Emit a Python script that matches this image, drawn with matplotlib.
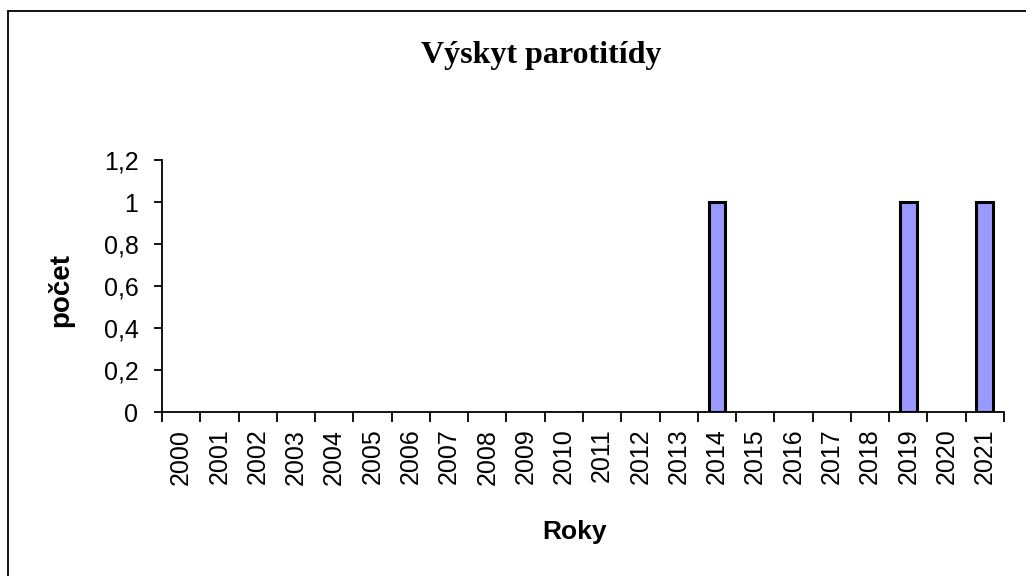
import matplotlib
matplotlib.use("Agg")
import matplotlib.pyplot as plt
from matplotlib.patches import Rectangle
from matplotlib.ticker import FuncFormatter

years = [str(y) for y in range(2000, 2022)]
counts = [0, 0, 0, 0, 0, 0, 0, 0, 0, 0, 0, 0, 0, 0, 1, 0, 0, 0, 0, 1, 0, 1]
yticks = [0, 0.2, 0.4, 0.6, 0.8, 1.0, 1.2]

W, H = 1026, 576
fig = plt.figure(figsize=(W / 100, H / 100), dpi=100)
fig.patch.set_facecolor("white")

# outer chart frame
fig.add_artist(Rectangle((7.5 / W, -0.01), 1.02, 1 - 10.5 / H + 0.01, transform=fig.transFigure,
                         fill=False, edgecolor="black", linewidth=1.3))

ax = fig.add_axes([162 / W, 1 - 412 / H, (1004 - 162) / W, (412 - 160) / H])
x = list(range(len(years)))
lws = [2.2 if c > 0 else 0 for c in counts]
ax.bar(x, counts, width=0.44, color="#9999FF", edgecolor="black", linewidth=lws, zorder=3)

ax.set_xlim(-0.5, len(years) - 0.5)
ax.set_ylim(0, 1.2)
ax.set_yticks(yticks)
ax.yaxis.set_major_formatter(FuncFormatter(lambda v, p: ("%g" % round(v, 1)).replace(".", ",")))
ax.set_xticks([i - 0.5 for i in x] + [len(years) - 0.5], minor=False)
ax.set_xticklabels([""] * (len(years) + 1))
ax.set_xticks(x, minor=True)
ax.set_xticklabels(years, minor=True, rotation=90, fontsize=18, fontfamily="Liberation Sans",
                   va="top")
ax.tick_params(axis="x", which="minor", length=0, pad=12)
ax.tick_params(axis="x", which="major", length=7, width=1.3, direction="out")
ax.tick_params(axis="y", length=6, width=1.3, direction="out", labelsize=18, pad=11)
for lab in ax.get_yticklabels():
    lab.set_fontfamily("Liberation Sans")

for s in ["top", "right"]:
    ax.spines[s].set_visible(False)
ax.spines["left"].set_linewidth(1.3)
ax.spines["bottom"].set_linewidth(1.3)

fig.text(541 / W, 1 - 56 / H, "Výskyt parotitídy", ha="center", va="center",
         fontsize=23, fontweight="bold", fontfamily="Liberation Serif")
fig.text(61 / W, 1 - 290 / H, "počet", ha="center", va="center", rotation=90,
         fontsize=20, fontweight="bold", fontfamily="Liberation Sans")
fig.text(575 / W, 1 - 532 / H, "Roky", ha="center", va="center",
         fontsize=19, fontweight="bold", fontfamily="Liberation Sans")

fig.savefig("out.png", dpi=100, facecolor="white")
